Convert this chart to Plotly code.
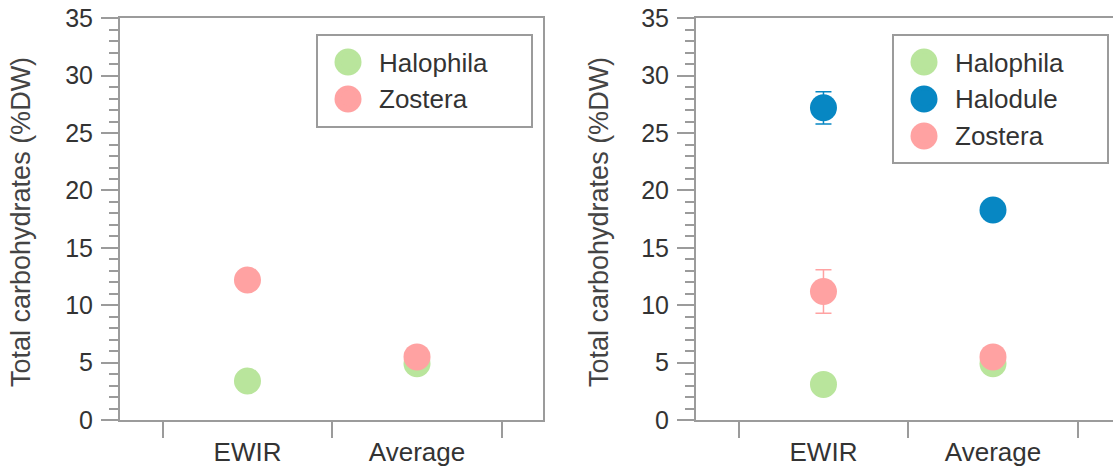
import plotly.graph_objects as go

# ---------------- data ----------------
categories = ["EWIR", "Average"]

left_halophila = [3.4, 4.9]
left_zostera = [12.2, 5.5]

right_halophila = [3.1, 4.9]
right_halodule = [27.2, 18.3]
right_halodule_err = [1.4, 0.0]
right_zostera = [11.2, 5.5]
right_zostera_err = [1.9, 0.0]

y_title = "Total carbohydrates (%DW)"
y_ticks = [0, 5, 10, 15, 20, 25, 30, 35]

# ---------------- style ----------------
GREEN = "#b9e59c"
PINK = "#ffa2a2"
BLUE = "#0787c3"
AXIS = "#9b9b9b"
TEXT = "#333333"
FONT = "Liberation Sans, Arial, Helvetica, sans-serif"
MS = 27

W, H = 1113, 472


def px(x):
    return x / W


def py(y):
    return 1 - y / H


fig = go.Figure()

# left panel
fig.add_trace(go.Scatter(x=categories, y=left_halophila, name="Halophila", mode="markers",
                         marker=dict(size=MS, color=GREEN), xaxis="x", yaxis="y", legend="legend"))
fig.add_trace(go.Scatter(x=categories, y=left_zostera, name="Zostera", mode="markers",
                         marker=dict(size=MS, color=PINK), xaxis="x", yaxis="y", legend="legend"))

# right panel
fig.add_trace(go.Scatter(x=categories, y=right_halophila, name="Halophila", mode="markers",
                         marker=dict(size=MS, color=GREEN), xaxis="x2", yaxis="y2", legend="legend2"))
fig.add_trace(go.Scatter(x=categories, y=right_halodule, name="Halodule", mode="markers",
                         marker=dict(size=MS, color=BLUE),
                         error_y=dict(type="data", array=right_halodule_err, color=BLUE, thickness=1.5, width=8),
                         xaxis="x2", yaxis="y2", legend="legend2"))
fig.add_trace(go.Scatter(x=categories, y=right_zostera, name="Zostera", mode="markers",
                         marker=dict(size=MS, color=PINK),
                         error_y=dict(type="data", array=right_zostera_err, color=PINK, thickness=1.5, width=8),
                         xaxis="x2", yaxis="y2", legend="legend2"))

xcommon = dict(type="category", categoryorder="array", categoryarray=categories,
               tickson="boundaries", ticks="outside", ticklen=16, tickwidth=2, tickcolor=AXIS,
               showline=True, linecolor=AXIS, linewidth=2, mirror=True,
               showgrid=False, zeroline=False, automargin=False,
               tickfont=dict(family=FONT, size=26, color=TEXT),
               ticklabelstandoff=8, ticklabeloverflow="allow", fixedrange=True)
ycommon = dict(range=[0, 35], tickmode="array", tickvals=y_ticks,
               ticks="outside", ticklen=17, tickwidth=2, tickcolor=AXIS,
               minor=dict(dtick=1, ticks="outside", ticklen=9, tickwidth=1.5, tickcolor=AXIS, showgrid=False),
               showline=True, linecolor=AXIS, linewidth=2,
               showgrid=False, zeroline=False, automargin=False,
               tickfont=dict(family=FONT, size=25, color=TEXT),
               ticklabelstandoff=3, ticklabeloverflow="allow", fixedrange=True)

ydom = [py(420), py(18.3)]

legend_font = dict(family=FONT, size=26, color=TEXT)
boxes = [(317, 35, 532, 127), (893, 35, 1108, 163)]

# legend frames
shapes = [
    dict(type="rect", xref="paper", yref="paper", x0=px(b[0]), y0=py(b[3]), x1=px(b[2]), y1=py(b[1]),
         line=dict(color=AXIS, width=2), fillcolor="white", layer="above")
    for b in boxes
]

# enlarge legend symbols to match the plotted marker size (plotly caps legend symbols at 16px)
ROW0, ROWSTEP, R = 62, 37, MS / 2
for legend_name, box in (("legend", boxes[0]), ("legend2", boxes[1])):
    entries = [t for t in fig.data if t.legend == legend_name]
    cx = box[0] + 31
    for i, t in enumerate(entries):
        cy = ROW0 + i * ROWSTEP
        shapes.append(dict(type="circle", xref="paper", yref="paper",
                           x0=px(cx - R), x1=px(cx + R), y0=py(cy + R), y1=py(cy - R),
                           fillcolor=t.marker.color, line=dict(width=0), layer="above"))

fig.update_layout(
    width=W, height=H,
    margin=dict(l=0, r=0, t=0, b=0),
    paper_bgcolor="white", plot_bgcolor="white",
    template="none",
    font=dict(family=FONT, color=TEXT),
    xaxis=dict(domain=[px(120), px(543.3)], range=[-0.752, 1.745], anchor="y", **xcommon),
    yaxis=dict(domain=ydom, anchor="x", mirror=True, **ycommon),
    xaxis2=dict(domain=[px(696), 1.0], range=[-0.752, 1.708], anchor="y2", **xcommon),
    yaxis2=dict(domain=ydom, anchor="x2", mirror=False, **ycommon),
    legend=dict(x=px(317), y=py(36), xanchor="left", yanchor="top",
                bordercolor="rgba(0,0,0,0)", borderwidth=2, bgcolor="rgba(0,0,0,0)",
                font=legend_font, itemwidth=50),
    legend2=dict(x=px(893), y=py(36), xanchor="left", yanchor="top",
                 bordercolor="rgba(0,0,0,0)", borderwidth=2, bgcolor="rgba(0,0,0,0)",
                 font=legend_font, itemwidth=50),
    showlegend=True,
    shapes=shapes,
    annotations=[
        dict(text=y_title, xref="paper", yref="paper", x=px(21), y=py(222), textangle=-90,
             showarrow=False, xanchor="center", yanchor="middle",
             font=dict(family=FONT, size=27, color="#444444")),
        dict(text=y_title, xref="paper", yref="paper", x=px(599), y=py(222), textangle=-90,
             showarrow=False, xanchor="center", yanchor="middle",
             font=dict(family=FONT, size=27, color="#444444")),
    ],
)

# remove the browser's default 8px body margin so the figure fills the window exactly
fig.write_html(
    "out.html",
    config={"displayModeBar": False},
    post_script="document.body.style.margin='0';document.documentElement.style.overflow='hidden';",
)
